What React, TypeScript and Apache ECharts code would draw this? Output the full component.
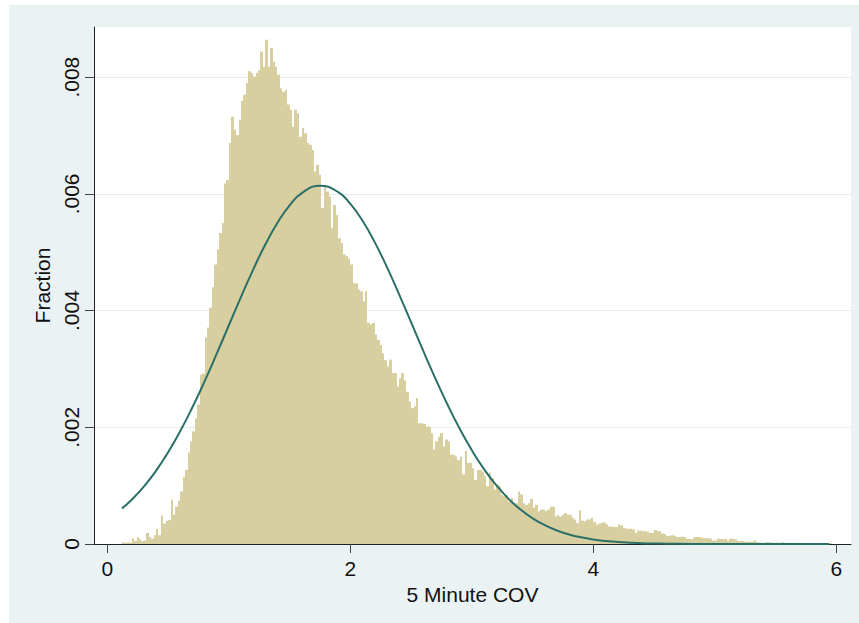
import React, { useEffect, useRef } from "react";
import * as echarts from "echarts";

// Histogram: bins of equal width starting at binStart; heights are fractions in units of 1e-4
const binStart = 0.12;
const binWidth = 0.02;
const fractionE4 = [
  0.3, 0.2, 0.3, 0.2, 1.0, 0.5, 1.2, 0.8, 0.5, 0.6,
  1.9, 1.2, 0.9, 1.5, 2.6, 1.5, 4.9, 3.5, 4.0, 4.1,
  7.6, 5.0, 6.4, 7.4, 9.0, 11.5, 12.7, 15.7, 17.6, 19.3,
  21.5, 23.9, 29.0, 29.2, 35.4, 37.1, 40.5, 44.0, 47.9, 50.5,
  53.3, 55.0, 61.8, 62.4, 68.7, 73.2, 71.0, 70.1, 72.7, 75.9,
  77.0, 79.0, 81.0, 80.7, 80.1, 80.7, 81.2, 84.4, 81.8, 86.4,
  81.8, 85.0, 82.7, 81.8, 80.4, 78.1, 77.5, 77.8, 75.3, 74.4,
  71.5, 74.4, 73.8, 69.8, 71.3, 70.4, 68.7, 68.4, 67.5, 63.8,
  65.0, 63.3, 57.6, 61.3, 60.4, 59.5, 54.1, 58.1, 56.4, 52.4,
  51.6, 49.6, 49.3, 48.9, 47.9, 44.7, 44.7, 43.6, 43.3, 41.6,
  43.3, 37.9, 37.6, 37.9, 35.9, 35.0, 34.1, 32.7, 31.5, 30.4,
  31.6, 29.3, 29.3, 27.0, 28.4, 29.3, 28.0, 26.1, 24.4, 23.3,
  23.6, 25.0, 20.7, 20.7, 20.6, 20.1, 20.1, 19.0, 16.2, 17.6,
  18.4, 19.0, 16.7, 17.9, 17.6, 15.3, 15.3, 15.0, 14.4, 15.0,
  11.9, 16.0, 13.9, 13.9, 13.0, 11.0, 12.7, 12.7, 12.4, 11.6,
  9.9, 12.2, 11.3, 9.3, 10.2, 9.9, 8.4, 8.2, 8.4, 7.3,
  7.9, 7.0, 7.0, 9.0, 8.5, 7.0, 6.7, 7.0, 7.7, 6.2,
  6.7, 5.6, 5.9, 5.9, 5.6, 5.9, 6.4, 6.4, 4.7, 5.0,
  4.7, 5.0, 5.3, 5.0, 5.0, 4.5, 4.2, 3.6, 5.8, 4.0,
  3.9, 4.2, 4.2, 4.5, 3.8, 3.3, 3.5, 3.7, 3.7, 3.4,
  3.0, 3.0, 2.9, 2.9, 3.4, 3.2, 2.7, 2.7, 2.6, 2.6,
  2.5, 1.9, 2.3, 2.3, 2.2, 2.2, 2.1, 1.9, 1.9, 2.4,
  2.2, 2.2, 1.8, 1.7, 1.4, 1.4, 1.5, 1.4, 1.2, 1.2,
  1.3, 1.2, 0.9, 0.9, 0.8, 1.1, 1.2, 1.2, 1.1, 1.0,
  1.0, 1.0, 0.9, 0.6, 0.6, 0.9, 0.9, 0.8, 0.9, 0.55,
  0.9, 0.9, 0.8, 0.5, 0.5, 0.5, 0.4, 0.4, 0.4, 0.4,
  0.6, 0.3, 0.2, 0.2, 0.2, 0.35, 0.3, 0.2, 0.2, 0.2,
  0.2, 0.3, 0.3, 0.2, 0.2, 0.2, 0.2, 0.2, 0.2, 0.2,
  0.15, 0.15, 0.1, 0.15, 0.15, 0.15, 0.1, 0.15, 0.15, 0.1, 0.15, 0.15,
];

// Normal density overlay, fraction in units of 1e-4
const curveX = [
  0.12, 0.2, 0.3, 0.4, 0.5, 0.6, 0.7, 0.8, 0.9, 1.0,
  1.1, 1.2, 1.3, 1.4, 1.5, 1.6, 1.75, 1.9, 2.0,
  2.1, 2.2, 2.3, 2.4, 2.5, 2.6, 2.7, 2.8, 2.9, 3.0,
  3.1, 3.2, 3.3, 3.4, 3.5, 3.6, 3.7, 3.8, 3.9, 4.0,
  4.1, 4.2, 4.3, 4.4, 4.5, 4.6, 4.8, 5.0, 5.5, 5.94,
];
const curveYE4 = [
  6.07, 7.57, 9.83, 12.53, 15.71, 19.35, 23.43, 27.86, 32.61, 37.49,
  42.36, 47.03, 51.32, 55.05, 58.04, 60.14, 61.4, 60.29, 58.29,
  55.39, 51.73, 47.48, 42.83, 37.98, 33.09, 28.35, 23.86, 19.74, 16.05,
  12.83, 10.08, 7.78, 5.9, 4.4, 3.23, 2.32, 1.64, 1.14, 0.78,
  0.53, 0.35, 0.23, 0.14, 0.09, 0.056, 0.02, 0.007, 0.0003, 0,
];

const xTicks = [0, 2, 4, 6];
const yTicks = [0, 0.002, 0.004, 0.006, 0.008];
const yTickLabels = ["0", ".002", ".004", ".006", ".008"];
const xTitle = "5 Minute COV";
const yTitle = "Fraction";

export default function App() {
  const ref = useRef<HTMLDivElement>(null);

  useEffect(() => {
    if (!ref.current) return;
    const chart = echarts.init(ref.current, null, { renderer: "svg" });
    const bins = fractionE4.map((v, i) => [
      binStart + i * binWidth,
      binStart + (i + 1) * binWidth,
      v * 1e-4,
    ]);
    const curve = curveX.map((x, i) => [x, curveYE4[i] * 1e-4]);
    const font = "'Liberation Sans', Arial, Helvetica, sans-serif";
    const textColor = "#111";

    chart.setOption({
      animation: false,
      backgroundColor: "#eaf2f3",
      grid: {
        left: 85,
        top: 22,
        width: 757,
        height: 517,
        show: true,
        backgroundColor: "#ffffff",
        borderWidth: 0,
        containLabel: false,
        outerBoundsMode: "none",
      },
      xAxis: {
        type: "value",
        min: -0.11,
        max: 6.12,
        name: xTitle,
        nameLocation: "middle",
        nameGap: 36,
        nameTextStyle: { fontSize: 21, fontFamily: font, color: textColor },
        axisLine: { show: true, onZero: false, lineStyle: { color: "#222", width: 1 } },
        axisTick: { show: true, length: 9, customValues: xTicks, lineStyle: { color: "#444", width: 1 } },
        axisLabel: {
          customValues: xTicks,
          margin: 14,
          fontSize: 21,
          fontFamily: font,
          color: textColor,
          formatter: (v: number) => String(v),
        },
        splitLine: { show: false },
      },
      yAxis: {
        type: "value",
        min: 0,
        max: 0.00886,
        interval: 0.002,
        name: yTitle,
        nameLocation: "middle",
        nameGap: 40,
        nameRotate: 90,
        nameTextStyle: { fontSize: 21, fontFamily: font, color: textColor },
        axisLine: { show: true, onZero: false, lineStyle: { color: "#222", width: 1 } },
        axisTick: { show: true, length: 9, customValues: yTicks, lineStyle: { color: "#444", width: 1 } },
        axisLabel: {
          customValues: yTicks,
          rotate: 90,
          margin: 12,
          fontSize: 21,
          fontFamily: font,
          color: textColor,
          formatter: (v: number) => {
            const k = yTicks.findIndex((t) => Math.abs(t - v) < 1e-9);
            return k >= 0 ? yTickLabels[k] : "";
          },
        },
        splitLine: { show: true, lineStyle: { color: "#e4ecef", width: 1 } },
      },
      series: [
        {
          type: "custom",
          name: "hist",
          z: 2,
          clip: true,
          encode: { x: [0, 1], y: 2 },
          data: bins,
          renderItem: (params: any, api: any) => {
            const p0 = api.coord([api.value(0), api.value(2)]);
            const p1 = api.coord([api.value(1), 0]);
            const x0 = Math.round(p0[0]);
            const x1 = Math.round(p1[0]);
            return {
              type: "rect",
              shape: { x: x0, y: p0[1], width: Math.max(x1 - x0, 1), height: p1[1] - p0[1] },
              style: { fill: "#d7cf9f", stroke: null },
            };
          },
        },
        {
          type: "line",
          name: "normal",
          z: 3,
          data: curve,
          smooth: true,
          symbol: "none",
          showSymbol: false,
          lineStyle: { color: "#2b6f69", width: 2 },
        },
      ],
    });
    return () => chart.dispose();
  }, []);

  return (
    <div style={{ position: "fixed", left: 0, top: 0, width: 859, height: 623, background: "#ffffff" }}>
      <div ref={ref} style={{ position: "absolute", left: 9, top: 5, width: 850, height: 618 }} />
    </div>
  );
}
